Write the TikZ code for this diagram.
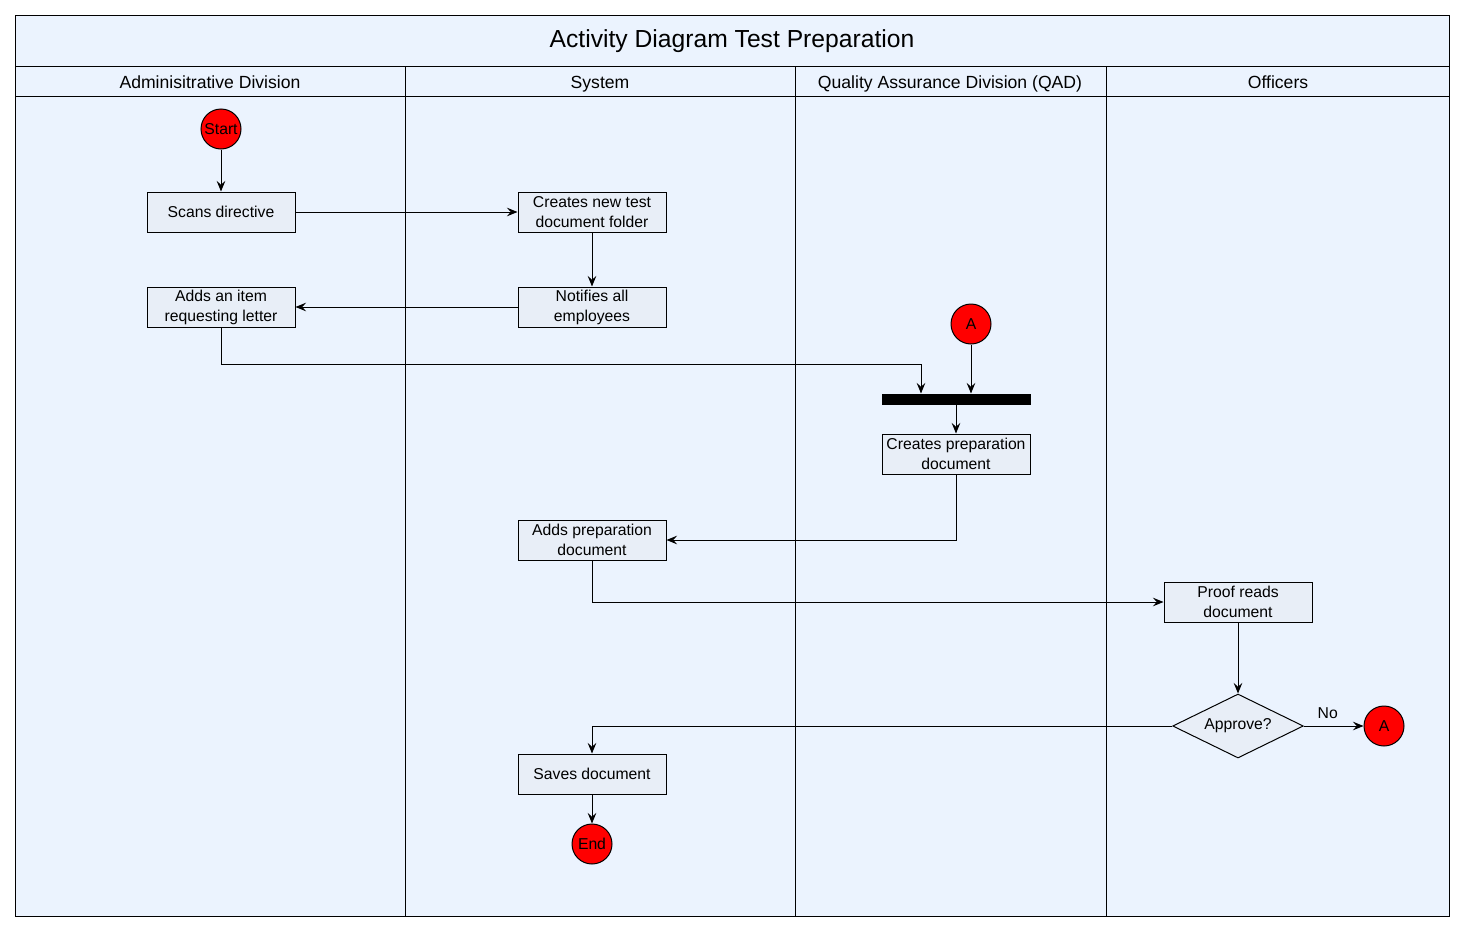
\documentclass[tikz,border=0pt]{standalone}
\usepackage{fontspec}
\setmainfont{Liberation Sans}
\usepackage{xcolor}
\usetikzlibrary{shapes.geometric,arrows.meta}
\definecolor{laneBlue}{HTML}{EBF3FE}
\definecolor{boxGrey}{HTML}{E8EEF7}
\definecolor{nodeRed}{HTML}{FF0000}

\tikzset{
  action/.style={draw, fill=boxGrey, minimum width=111pt, minimum height=30pt, inner sep=1pt, align=center, font=\fontsize{11.8}{15}\selectfont},
  terminal/.style={circle, draw, fill=nodeRed, minimum size=30pt, inner sep=0pt, font=\fontsize{11.8}{14}\selectfont},
  decision/.style={diamond, draw, fill=boxGrey, aspect=2, minimum width=98pt, minimum height=48pt, inner sep=0pt, font=\fontsize{11.8}{14}\selectfont},
  lanehead/.style={anchor=base, font=\fontsize{13.2}{16}\selectfont},
  flow/.style={-{Stealth[length=8pt,width=6.5pt,inset=3pt]}, line width=0.75pt},
}

\begin{document}
\begin{tikzpicture}[x=0.75pt, y=-0.75pt, line width=0.75pt]
  \useasboundingbox (0,0) rectangle (1465,932);
  \fill[white] (0,0) rectangle (1465,932);

  % Frame and title
  \draw[fill=laneBlue] (15,15) rectangle (1449,916);
  \node[anchor=base, font=\fontsize{18.5}{22}\selectfont] at (732,47) {Activity Diagram Test Preparation};
  \draw (15,66) -- (1449,66);
  \draw (15,96) -- (1449,96);

  % Swimlanes
  \draw (405,66) -- (405,916);
  \draw (795,66) -- (795,916);
  \draw (1106,66) -- (1106,916);
  \node[lanehead] at (210,88) {Adminisitrative Division};
  \node[lanehead] at (600,88) {System};
  \node[lanehead] at (950,88) {Quality Assurance Division (QAD)};
  \node[lanehead] at (1278,88) {Officers};

  % Activities
  \node[terminal] (start) at (221,129) {Start};
  \node[action] (scan) at (221,212) {Scans directive};
  \node[action] (folder) at (592,212) {Creates new test\\document folder};
  \node[action] (notify) at (592,307) {Notifies all\\employees};
  \node[action] (additem) at (221,307) {Adds an item\\requesting letter};
  \node[terminal] (connA) at (971,324) {A};
  \node[draw, fill=black, minimum width=111pt, minimum height=7.5pt, inner sep=0pt] (joinbar) at (956,399) {};
  \node[action] (prepdoc) at (956,454) {Creates preparation\\document};
  \node[action] (addprep) at (592,540) {Adds preparation\\document};
  \node[action] (proof) at (1238,602) {Proof reads\\document};
  \node[decision] (approve) at (1238,726) {Approve?};
  \node[terminal] (connB) at (1384,726) {A};
  \node[action] (save) at (592,774) {Saves document};
  \node[terminal] (finish) at (592,844) {End};

  % Flows
  \draw[flow] (start) -- (scan);
  \draw[flow] (scan) -- (folder);
  \draw[flow] (folder) -- (notify);
  \draw[flow] (notify) -- (additem);
  \draw[flow] (additem.south) -- ++(0,37) -| ([xshift=-26.25pt]joinbar.north);
  \draw[flow] (connA) -- (connA |- joinbar.north);
  \draw[flow] (joinbar) -- (prepdoc);
  \draw[flow] (prepdoc.south) |- (addprep.east);
  \draw[flow] (addprep.south) |- (proof.west);
  \draw[flow] (proof) -- (approve);
  \draw[flow] (approve) -- node[above=2pt, pos=0.4, font=\fontsize{11.8}{14}\selectfont] {No} (connB);
  \draw[flow] (approve.west) -| (save.north);
  \draw[flow] (save) -- (finish);
\end{tikzpicture}
\end{document}
